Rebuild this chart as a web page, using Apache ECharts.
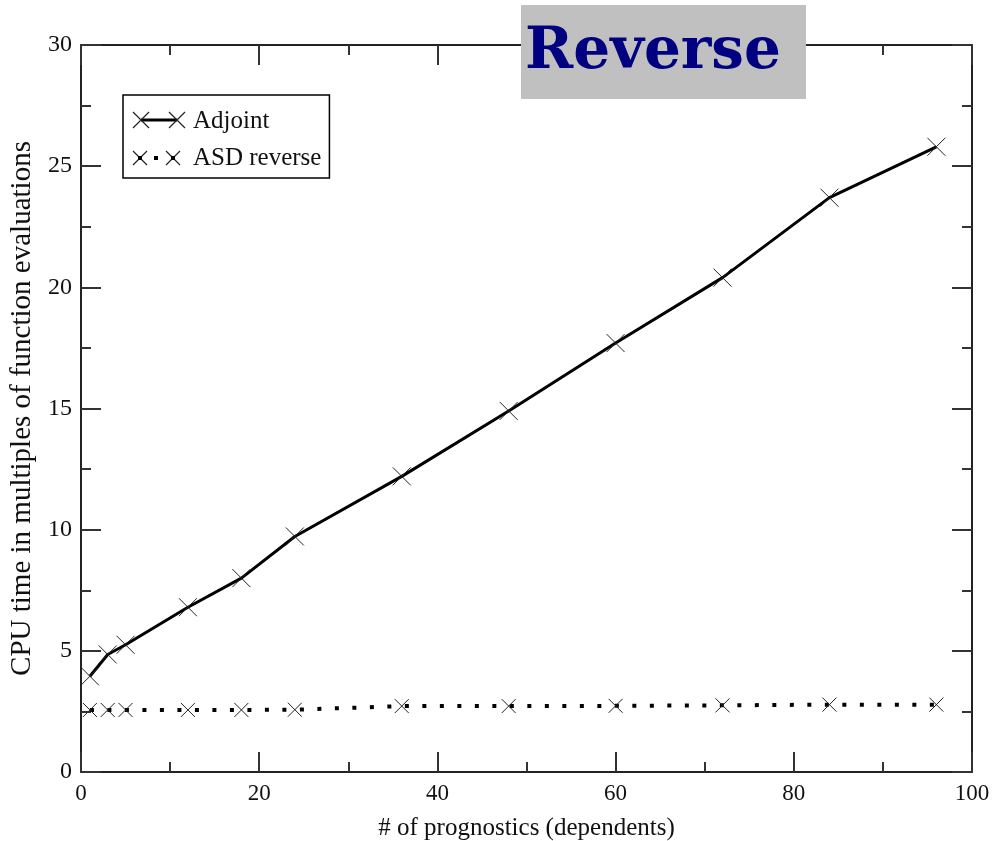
<!DOCTYPE html>
<html>
<head>
<meta charset="utf-8">
<script src="https://cdn.jsdelivr.net/npm/echarts@6/dist/echarts.min.js"></script>
<style>
    html, body { margin: 0; padding: 0; background: #fff; }
    #main { width: 994px; height: 841px; }
</style>
</head>
<body>
<div id="main"></div>
<script>
// x 值（因变量个数）
var prognostics = [1, 3, 5, 12, 18, 24, 36, 48, 60, 72, 84, 96]
// Adjoint 曲线
var adjoint = [3.95, 4.85, 5.25, 6.8, 8.0, 9.72, 12.2, 14.9, 17.7, 20.4, 23.7, 25.8]
// ASD reverse 曲线
var asdReverse = [2.56, 2.56, 2.56, 2.56, 2.56, 2.57, 2.72, 2.72, 2.73, 2.75, 2.78, 2.78]

var xTicks = [0, 20, 40, 60, 80, 100]
var yTicks = [0, 5, 10, 15, 20, 25, 30]

var crossPath = 'path://M0,0L10,10M10,0L0,10'
var serif = 'Liberation Serif'

function pairs(xs, ys) {
    return xs.map(function (x, i) { return [x, ys[i]] })
}

// 每条轴用新的对象，免得被 echarts 合并时改掉
function frameLine() {
    return { show: true, onZero: false, lineStyle: { color: '#222', width: 2 } }
}
function tickStyle() {
    return { show: true, inside: true, length: 20, lineStyle: { color: '#333', width: 2 } }
}
function minorStyle() {
    return { show: true, splitNumber: 2, length: 10, lineStyle: { color: '#333', width: 2 } }
}

// 图例里的小叉
function cross(cx, cy, r) {
    return {
        type: 'polyline', z: 110, silent: true,
        shape: { points: [[cx - r, cy - r], [cx + r, cy + r], [cx, cy], [cx + r, cy - r], [cx - r, cy + r]] },
        style: { stroke: '#222', lineWidth: 1.2, fill: null }
    }
}

var myChart = echarts.init(document.getElementById('main'))

var hidden = { icon: 'none', itemStyle: { opacity: 0 }, lineStyle: { opacity: 0 } }

var option = {
    animation: false,
    grid: { left: 81, right: 22, top: 45, bottom: 69, containLabel: false, outerBoundsMode: 'none' },
    legend: {
        orient: 'vertical',
        left: 123,
        top: 95,
        padding: [14, 8, 7, 10],
        itemGap: 12,
        itemWidth: 55,
        itemHeight: 20,
        itemTextGap: 10,
        borderColor: '#000',
        borderWidth: 1.5,
        backgroundColor: '#fff',
        selectedMode: false,
        textStyle: { fontFamily: serif, fontSize: 25, color: '#111' },
        data: [
            Object.assign({ name: 'Adjoint' }, hidden),
            Object.assign({ name: 'ASD reverse' }, hidden)
        ]
    },
    xAxis: [
        {
            type: 'value',
            position: 'bottom',
            min: xTicks[0],
            max: xTicks[xTicks.length - 1],
            interval: 20,
            name: '# of prognostics (dependents)',
            nameLocation: 'middle',
            nameGap: 44,
            nameTextStyle: { fontFamily: serif, fontSize: 25, color: '#111' },
            axisLine: frameLine(),
            axisTick: tickStyle(),
            minorTick: minorStyle(),
            splitLine: { show: false },
            axisLabel: { fontFamily: serif, fontSize: 23, color: '#111', margin: 10 }
        },
        {
            type: 'value',
            position: 'top',
            min: 0,
            max: 100,
            interval: 20,
            axisLine: frameLine(),
            axisTick: tickStyle(),
            minorTick: minorStyle(),
            splitLine: { show: false },
            axisLabel: { show: false }
        }
    ],
    yAxis: [
        {
            type: 'value',
            position: 'left',
            min: yTicks[0],
            max: yTicks[yTicks.length - 1],
            interval: 5,
            name: 'CPU time in multiples of function evaluations',
            nameLocation: 'middle',
            nameGap: 44,
            nameTextStyle: { fontFamily: serif, fontSize: 29, color: '#111' },
            axisLine: frameLine(),
            axisTick: tickStyle(),
            minorTick: minorStyle(),
            splitLine: { show: false },
            axisLabel: { fontFamily: serif, fontSize: 24, color: '#111', margin: 9 }
        },
        {
            type: 'value',
            position: 'right',
            min: 0,
            max: 30,
            interval: 5,
            axisLine: frameLine(),
            axisTick: tickStyle(),
            minorTick: minorStyle(),
            splitLine: { show: false },
            axisLabel: { show: false }
        }
    ],
    series: [
        {
            name: 'Adjoint',
            type: 'line',
            data: pairs(prognostics, adjoint),
            symbol: crossPath,
            symbolSize: 18,
            itemStyle: { color: '#000', borderColor: '#222', borderWidth: 1 },
            lineStyle: { color: '#000', width: 3 }
        },
        {
            name: 'ASD reverse',
            type: 'line',
            data: pairs(prognostics, asdReverse),
            symbol: crossPath,
            symbolSize: 14,
            itemStyle: { color: '#000', borderColor: '#222', borderWidth: 1 },
            lineStyle: { color: '#000', width: 4, type: [4, 13.5] }
        }
    ],
    graphic: [
        {
            type: 'rect',
            z: 100,
            shape: { x: 521, y: 5, width: 285, height: 94 },
            style: { fill: '#c0c0c0' }
        },
        {
            type: 'text',
            z: 101,
            x: 653,
            y: 53,
            style: {
                text: 'Reverse',
                fill: '#000080',
                font: 'bold 58px "DejaVu Serif"',
                align: 'center',
                verticalAlign: 'middle'
            }
        },
        // 图例符号：Adjoint 实线两端带叉，ASD reverse 点线两端带叉
        {
            type: 'line', z: 110, silent: true,
            shape: { x1: 141, y1: 120, x2: 177, y2: 120 },
            style: { stroke: '#000', lineWidth: 3 }
        },
        cross(141, 120, 8),
        cross(177, 120, 8),
        {
            type: 'rect', z: 110, silent: true,
            shape: { x: 154, y: 156, width: 4, height: 4 },
            style: { fill: '#000' }
        },
        cross(140, 158, 7),
        cross(173, 158, 7),
        {
            type: 'rect', z: 110, silent: true,
            shape: { x: 138, y: 156, width: 4, height: 4 },
            style: { fill: '#000' }
        },
        {
            type: 'rect', z: 110, silent: true,
            shape: { x: 171, y: 156, width: 4, height: 4 },
            style: { fill: '#000' }
        }
    ]
}

myChart.setOption(option)
</script>
</body>
</html>
